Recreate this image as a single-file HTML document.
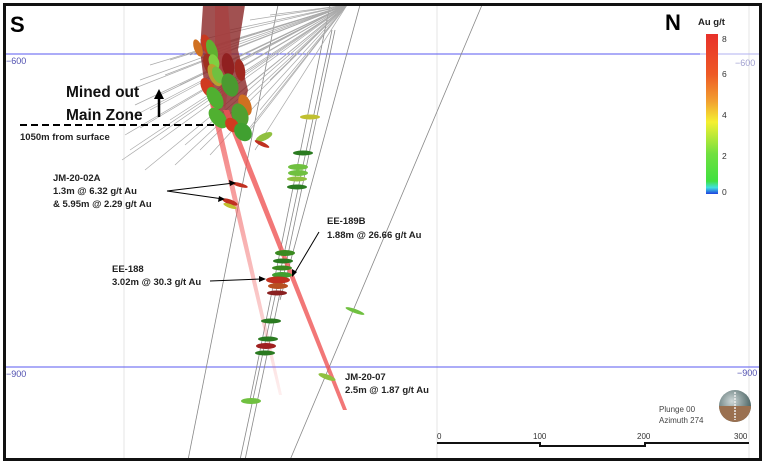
<!DOCTYPE html>
<html><head><meta charset="utf-8"><style>
html,body{margin:0;padding:0;background:#fff;}
svg{display:block;}
text{font-family:"Liberation Sans",sans-serif;}
.lb{font-size:9.5px;font-weight:bold;fill:#222;}
</style></head><body>
<svg width="768" height="465" viewBox="0 0 768 465" xmlns="http://www.w3.org/2000/svg">
<defs>
<linearGradient id="cb" x1="0" y1="0" x2="0" y2="1">
<stop offset="0" stop-color="#e8302a"/><stop offset="0.25" stop-color="#ee5a26"/>
<stop offset="0.42" stop-color="#f2a030"/><stop offset="0.55" stop-color="#f5f030"/>
<stop offset="0.75" stop-color="#70e040"/><stop offset="0.92" stop-color="#40e040"/>
<stop offset="0.96" stop-color="#40e0e0"/><stop offset="1" stop-color="#2040e0"/>
</linearGradient>
<radialGradient id="sp" cx="0.4" cy="0.35" r="0.7">
<stop offset="0" stop-color="#cfd8d8"/><stop offset="1" stop-color="#3a5555"/>
</radialGradient>
<linearGradient id="rb1" x1="0" y1="0" x2="0" y2="1"><stop offset="0" stop-color="#f06060" stop-opacity="0.85"/><stop offset="1" stop-color="#f06060" stop-opacity="0.1"/></linearGradient>
</defs>
<rect x="0" y="0" width="768" height="465" fill="#fff"/>
<line x1="124" y1="5" x2="124" y2="460" stroke="#e6e6e6" stroke-width="1"/>
<line x1="437" y1="5" x2="437" y2="460" stroke="#e6e6e6" stroke-width="1"/>
<line x1="749" y1="5" x2="749" y2="460" stroke="#e6e6e6" stroke-width="1"/>
<line x1="5" y1="54" x2="700" y2="54" stroke="#5a5af0" stroke-width="1"/>
<line x1="700" y1="54" x2="760" y2="54" stroke="#b0b0f0" stroke-width="1"/>
<line x1="5" y1="367" x2="760" y2="367" stroke="#5a5af0" stroke-width="1"/>
<text x="6" y="64" font-size="9" fill="#5050b0">−600</text>
<text x="735" y="66" font-size="9" fill="#a0a0d0">−600</text>
<text x="6" y="377" font-size="9" fill="#5050b0">−900</text>
<text x="737" y="376" font-size="9" fill="#5050b0">−900</text>
<g stroke="#888" stroke-width="0.8" fill="none">
<line x1="278" y1="5" x2="188" y2="460"/>
<line x1="335" y1="30" x2="245" y2="460"/>
<line x1="332" y1="30" x2="240" y2="460"/>
<line x1="330" y1="5" x2="250" y2="400"/>
<line x1="482" y1="5" x2="290" y2="460"/>
<line x1="360" y1="5" x2="280" y2="300"/>
</g>
<g stroke="#aaa" stroke-width="0.7">
<line x1="347" y1="5" x2="200" y2="40"/><line x1="347" y1="5" x2="190" y2="55"/>
<line x1="347" y1="5" x2="170" y2="60"/><line x1="347" y1="5" x2="150" y2="65"/>
<line x1="347" y1="5" x2="165" y2="75"/><line x1="347" y1="5" x2="140" y2="80"/>
<line x1="347" y1="5" x2="180" y2="85"/><line x1="347" y1="5" x2="130" y2="90"/>
<line x1="347" y1="5" x2="160" y2="95"/><line x1="347" y1="5" x2="135" y2="105"/>
<line x1="347" y1="5" x2="150" y2="110"/><line x1="347" y1="5" x2="130" y2="118"/>
<line x1="347" y1="5" x2="170" y2="120"/><line x1="347" y1="5" x2="140" y2="128"/>
<line x1="347" y1="5" x2="125" y2="135"/><line x1="347" y1="5" x2="160" y2="140"/>
<line x1="347" y1="5" x2="185" y2="145"/><line x1="347" y1="5" x2="130" y2="150"/>
<line x1="347" y1="5" x2="200" y2="150"/><line x1="347" y1="5" x2="122" y2="160"/>
<line x1="347" y1="5" x2="210" y2="155"/><line x1="347" y1="5" x2="240" y2="140"/>
<line x1="347" y1="5" x2="250" y2="130"/><line x1="347" y1="5" x2="230" y2="100"/>
<line x1="347" y1="5" x2="220" y2="70"/><line x1="347" y1="5" x2="215" y2="50"/>
<line x1="347" y1="5" x2="230" y2="30"/><line x1="347" y1="5" x2="250" y2="20"/>
<line x1="347" y1="5" x2="270" y2="15"/><line x1="347" y1="5" x2="240" y2="60"/>
<line x1="347" y1="5" x2="260" y2="110"/><line x1="347" y1="5" x2="270" y2="80"/>
<line x1="347" y1="5" x2="290" y2="60"/><line x1="347" y1="5" x2="255" y2="150"/>
<line x1="347" y1="5" x2="145" y2="170"/><line x1="347" y1="5" x2="175" y2="165"/>
</g>
<path d="M203,5 L245,5 L238,50 L248,90 L240,125 L220,128 L205,90 L200,50 Z" fill="#8a2525" opacity="0.8"/>
<path d="M215,5 L228,5 L232,60 L225,110 L215,60 Z" fill="#a84040" opacity="0.75"/>
<polygon points="209,100 215,100 282,395 279,395" fill="url(#rb1)"/>
<polygon points="223,110 229,110 347,410 343,410" fill="#ef5555" opacity="0.8"/>
<g>
<ellipse cx="198" cy="48" rx="4" ry="9" fill="#d07020" transform="rotate(-20 198 48)"/>
<ellipse cx="207" cy="45" rx="5" ry="11" fill="#c83a20" transform="rotate(-20 207 45)"/>
<ellipse cx="212" cy="50" rx="5" ry="11" fill="#60b030" transform="rotate(-20 212 50)"/>
<ellipse cx="210" cy="65" rx="6" ry="12" fill="#a03020" transform="rotate(-20 210 65)"/>
<ellipse cx="214" cy="62" rx="5" ry="8" fill="#80d040" transform="rotate(-20 214 62)"/>
<ellipse cx="215" cy="75" rx="6" ry="12" fill="#b8a030" transform="rotate(-25 215 75)"/>
<ellipse cx="218" cy="75" rx="5" ry="9" fill="#70c040" transform="rotate(-25 218 75)"/>
<ellipse cx="228" cy="65" rx="6" ry="12" fill="#902020" transform="rotate(-10 228 65)"/>
<ellipse cx="240" cy="70" rx="5" ry="11" fill="#a02820" transform="rotate(-10 240 70)"/>
<ellipse cx="208" cy="88" rx="6" ry="11" fill="#d03a20" transform="rotate(-30 208 88)"/>
<ellipse cx="230" cy="85" rx="8" ry="12" fill="#4a9a30" transform="rotate(-20 230 85)"/>
<ellipse cx="215" cy="98" rx="7" ry="12" fill="#50b030" transform="rotate(-30 215 98)"/>
<ellipse cx="245" cy="105" rx="6" ry="11" fill="#d07020" transform="rotate(-20 245 105)"/>
<ellipse cx="240" cy="115" rx="8" ry="12" fill="#50a030" transform="rotate(-20 240 115)"/>
<ellipse cx="218" cy="118" rx="7" ry="12" fill="#50b030" transform="rotate(-40 218 118)"/>
<ellipse cx="232" cy="125" rx="6" ry="8" fill="#d03a20" transform="rotate(-40 232 125)"/>
<ellipse cx="243" cy="132" rx="8" ry="10" fill="#40a030" transform="rotate(-40 243 132)"/>
<ellipse cx="264" cy="137" rx="9" ry="3.5" fill="#90c040" transform="rotate(-25 264 137)"/>
<ellipse cx="262" cy="144" rx="8" ry="2" fill="#c03020" transform="rotate(25 262 144)"/>
<ellipse cx="310" cy="117" rx="10" ry="2.5" fill="#c0c030"/>
<ellipse cx="303" cy="153" rx="10" ry="2.5" fill="#2a7a20"/>
<ellipse cx="298" cy="167" rx="10" ry="3" fill="#70c040"/>
<ellipse cx="298" cy="173" rx="10" ry="3" fill="#70c040"/>
<ellipse cx="297" cy="179" rx="10" ry="2.5" fill="#90c040"/>
<ellipse cx="297" cy="187" rx="10" ry="2.5" fill="#2a7a20"/>
<ellipse cx="240" cy="185" rx="8" ry="2" fill="#c03020" transform="rotate(15 240 185)"/>
<ellipse cx="230" cy="202" rx="8" ry="2.5" fill="#c03020" transform="rotate(20 230 202)"/>
<ellipse cx="230" cy="206" rx="7" ry="2" fill="#c0c030" transform="rotate(20 230 206)"/>
<ellipse cx="285" cy="253" rx="10" ry="3" fill="#3a8a20"/>
<ellipse cx="283" cy="261" rx="10" ry="2.5" fill="#2a7a20"/>
<ellipse cx="282" cy="268" rx="10" ry="2.5" fill="#3a8a20"/>
<ellipse cx="282" cy="275" rx="10" ry="3" fill="#40a030"/>
<ellipse cx="278" cy="280" rx="12" ry="3.5" fill="#c03020"/>
<ellipse cx="278" cy="286" rx="10" ry="3" fill="#b85020"/>
<ellipse cx="277" cy="293" rx="10" ry="2.5" fill="#8a2020"/>
<ellipse cx="271" cy="321" rx="10" ry="2.5" fill="#2a7a20"/>
<ellipse cx="268" cy="339" rx="10" ry="2.5" fill="#2a7a20"/>
<ellipse cx="266" cy="346" rx="10" ry="3" fill="#a02020"/>
<ellipse cx="265" cy="353" rx="10" ry="2.5" fill="#2a7a20"/>
<ellipse cx="355" cy="311" rx="10" ry="2" fill="#70c040" transform="rotate(20 355 311)"/>
<ellipse cx="327" cy="377" rx="9" ry="2.5" fill="#90c040" transform="rotate(20 327 377)"/>
<ellipse cx="251" cy="401" rx="10" ry="3" fill="#70c040"/>
</g>
<line x1="20" y1="125" x2="215" y2="125" stroke="#000" stroke-width="2" stroke-dasharray="7,4"/>
<text x="66" y="97" font-size="15.5" font-weight="bold" fill="#111">Mined out</text>
<text x="66" y="120" font-size="15.5" font-weight="bold" fill="#111">Main Zone</text>
<line x1="159" y1="117" x2="159" y2="98" stroke="#000" stroke-width="2.5"/>
<polygon points="154,99 164,99 159,89" fill="#000"/>
<text x="20" y="140" class="lb">1050m from surface</text>
<text x="53" y="181" class="lb">JM-20-02A</text>
<text x="53" y="194" class="lb">1.3m @ 6.32 g/t Au</text>
<text x="53" y="207" class="lb">&amp; 5.95m @ 2.29 g/t Au</text>
<line x1="167" y1="191" x2="234" y2="183" stroke="#000" stroke-width="1"/>
<polygon points="236,183 229,180 230,186" fill="#000"/>
<line x1="167" y1="191" x2="223" y2="199" stroke="#000" stroke-width="1"/>
<polygon points="225,199 219,196 218,202" fill="#000"/>
<text x="327" y="224" class="lb">EE-189B</text>
<text x="327" y="238" class="lb">1.88m @ 26.66 g/t Au</text>
<line x1="319" y1="232" x2="294" y2="274" stroke="#000" stroke-width="1"/>
<polygon points="292,277 292,269 297,272" fill="#000"/>
<text x="112" y="272" class="lb">EE-188</text>
<text x="112" y="285" class="lb">3.02m @ 30.3 g/t Au</text>
<line x1="210" y1="281" x2="262" y2="279" stroke="#000" stroke-width="1"/>
<polygon points="266,279 259,276 259,282" fill="#000"/>
<text x="345" y="380" class="lb">JM-20-07</text>
<text x="345" y="393" class="lb">2.5m @ 1.87 g/t Au</text>
<text x="10" y="32" font-size="22" font-weight="bold" fill="#000">S</text>
<text x="665" y="30" font-size="22" font-weight="bold" fill="#000">N</text>
<text x="698" y="25" font-size="9.5" font-weight="bold" fill="#222">Au g/t</text>
<rect x="706" y="34" width="12" height="160" fill="url(#cb)"/>
<g font-size="8.5" fill="#333">
<text x="722" y="42">8</text><text x="722" y="77">6</text><text x="722" y="118">4</text><text x="722" y="159">2</text><text x="722" y="195">0</text>
</g>
<text x="659" y="412" font-size="8" fill="#444">Plunge 00</text>
<text x="659" y="423" font-size="8" fill="#444">Azimuth 274</text>
<circle cx="735" cy="406" r="16" fill="url(#sp)"/>
<path d="M719,406 A16,16 0 0 0 751,406 Z" fill="#9a7050"/>
<line x1="735" y1="392" x2="735" y2="420" stroke="#eee" stroke-width="1.5" stroke-dasharray="2,1"/>
<g font-size="8" fill="#333">
<text x="437" y="439">0</text><text x="533" y="439">100</text><text x="637" y="439">200</text><text x="734" y="439">300</text>
</g>
<polyline points="437,443 540,443 540,446 645,446 645,443 749,443" fill="none" stroke="#111" stroke-width="2"/>
<rect x="4.5" y="4.5" width="756" height="455" fill="none" stroke="#111" stroke-width="3"/>
</svg>
</body></html>
